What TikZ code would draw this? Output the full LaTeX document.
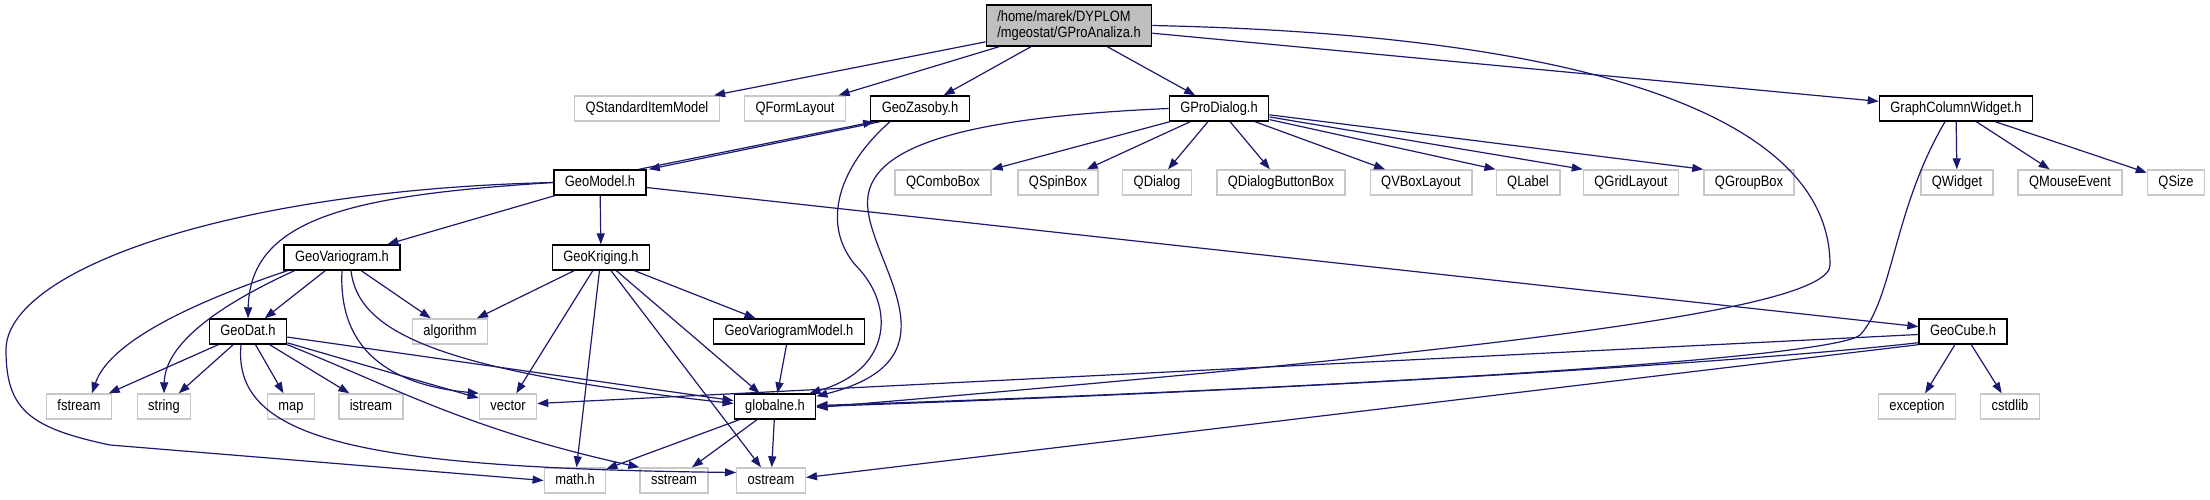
\documentclass[tikz,border=0pt]{standalone}
\usepackage{fontspec}
\setmainfont{Liberation Sans}[FakeStretch=0.86]
\usepackage{tikz}
\usetikzlibrary{arrows.meta}
\definecolor{EdgeBlue}{RGB}{25,25,112}
\definecolor{CurGrey}{RGB}{191,191,191}
\definecolor{SysGrey}{RGB}{200,200,200}
\tikzset{
  box/.style={rectangle, draw=black, line width=1.4pt, fill=white, inner xsep=11pt,
    inner ysep=0pt, minimum height=25pt, font=\fontsize{15}{16}\selectfont},
  doc/.style={box, text height=11pt, text depth=3pt},
  sys/.style={doc, draw=SysGrey},
  cur/.style={box, fill=CurGrey, align=left, minimum height=41pt},
  inc/.style={-{Triangle[length=11pt,width=8pt]}, line width=1.2pt, draw=EdgeBlue, fill=none}
}
\begin{document}
\begin{tikzpicture}[x=1pt, y=-1pt]
  \useasboundingbox (0,0) rectangle (2210,500);
  \node[cur] (ana) at (1069,25.5) {/home/marek/DYPLOM\\/mgeostat/GProAnaliza.h};
  \node[sys] (qsim) at (647,108.5) {QStandardItemModel};
  \node[sys] (qfl) at (795,108.5) {QFormLayout};
  \node[doc] (zas) at (920,108.5) {GeoZasoby.h};
  \node[doc] (dlg) at (1219,108.5) {GProDialog.h};
  \node[doc] (gcw) at (1956,108.5) {GraphColumnWidget.h};
  \node[doc] (mdl) at (600,182.5) {GeoModel.h};
  \node[sys] (qcb) at (943,182.5) {QComboBox};
  \node[sys] (qsb) at (1058,182.5) {QSpinBox};
  \node[sys] (qdl) at (1157,182.5) {QDialog};
  \node[sys] (qbb) at (1281,182.5) {QDialogButtonBox};
  \node[sys] (qvb) at (1421,182.5) {QVBoxLayout};
  \node[sys] (qlb) at (1528,182.5) {QLabel};
  \node[sys] (qgl) at (1631,182.5) {QGridLayout};
  \node[sys] (qgb) at (1749,182.5) {QGroupBox};
  \node[sys] (qwd) at (1957,182.5) {QWidget};
  \node[sys] (qme) at (2070,182.5) {QMouseEvent};
  \node[sys] (qsz) at (2176,182.5) {QSize};
  \node[doc] (var) at (342,257.5) {GeoVariogram.h};
  \node[doc] (krg) at (601,257.5) {GeoKriging.h};
  \node[doc] (dat) at (248,331.5) {GeoDat.h};
  \node[sys] (alg) at (450,331.5) {algorithm};
  \node[doc] (vmd) at (789,331.5) {GeoVariogramModel.h};
  \node[doc] (cub) at (1963,331.5) {GeoCube.h};
  \node[sys] (fst) at (79,406.5) {fstream};
  \node[sys] (str) at (164,406.5) {string};
  \node[sys] (map) at (291,406.5) {map};
  \node[sys] (ist) at (371,406.5) {istream};
  \node[sys] (vec) at (508,406.5) {vector};
  \node[doc] (glb) at (775,406.5) {globalne.h};
  \node[sys] (exc) at (1917,406.5) {exception};
  \node[sys] (csl) at (2010,406.5) {cstdlib};
  \node[sys] (mth) at (575,480.5) {math.h};
  \node[sys] (sst) at (674,480.5) {sstream};
  \node[sys] (ost) at (771,480.5) {ostream};

  \draw[inc] (ana) -- (qsim);
  \draw[inc] (ana) -- (qfl);
  \draw[inc] (ana) -- (zas);
  \draw[inc] (ana) -- (dlg);
  \draw[inc] (ana) -- (gcw);
  \draw[inc] (ana.east) .. controls (1600,35) and (1830,120) .. (1830,265)
    .. controls (1830,310) and (1500,350) .. ([yshift=-1pt]glb.east);

  \draw[inc] ([xshift=-8pt]mdl.north east) -- ([xshift=4pt]zas.south west);
  \draw[inc] ([xshift=10pt]zas.south west) -- ([xshift=2pt]mdl.north east);
  \draw[inc] ([xshift=-30pt]zas.south) .. controls (835,170) and (820,230) .. (860,270)
    .. controls (895,310) and (890,370) .. ([xshift=-7pt]glb.north east);

  \draw[inc] (dlg) -- (qcb);
  \draw[inc] (dlg) -- (qsb);
  \draw[inc] (dlg) -- (qdl);
  \draw[inc] (dlg) -- (qbb);
  \draw[inc] (dlg) -- (qvb);
  \draw[inc] (dlg) -- (qlb.north west);
  \draw[inc] (dlg) -- (qgl.north west);
  \draw[inc] (dlg) -- (qgb.north west);
  \draw[inc] (dlg.west) .. controls (950,118) and (860,150) .. (868,210)
    .. controls (875,270) and (960,360) .. ([yshift=-3pt]glb.north east);

  \draw[inc] (gcw) -- (qwd);
  \draw[inc] (gcw) -- (qme);
  \draw[inc] (gcw) -- (qsz);
  \draw[inc] ([xshift=-11pt]gcw.south) .. controls (1893,210) and (1893,300) .. (1860,335)
    .. controls (1830,360) and (1300,390) .. ([yshift=1pt]glb.east);

  \draw[inc] (mdl) -- (var);
  \draw[inc] (mdl) -- (krg);
  \draw[inc] (mdl) -- (cub);
  \draw[inc] (mdl.west) .. controls (360,195) and (250,215) .. (dat.north);
  \draw[inc] (mdl.west) .. controls (230,190) and (6,270) .. (6,350)
    .. controls (6,410) and (30,428) .. (110,445) -- (mth.west);

  \draw[inc] (var) -- (dat);
  \draw[inc] (var) -- (alg);
  \draw[inc] ([xshift=4pt]var.south west) .. controls (200,300) and (110,340) .. ([xshift=13pt]fst.north);
  \draw[inc] ([xshift=11pt]var.south west) .. controls (230,300) and (165,340) .. (str.north);
  \draw[inc] (var.south) .. controls (338,350) and (390,385) .. (vec.north west);
  \draw[inc] ([xshift=9pt]var.south) .. controls (358,330) and (430,370) .. ([yshift=3pt]glb.west);

  \draw[inc] (krg) -- (alg);
  \draw[inc] (krg) -- (vec);
  \draw[inc] (krg) -- (mth);
  \draw[inc] (krg) -- (glb);
  \draw[inc] (krg) -- (ost);
  \draw[inc] (krg) -- (vmd);
  \draw[inc] (vmd) -- (glb);

  \draw[inc] (dat) -- (fst);
  \draw[inc] (dat) -- (str);
  \draw[inc] (dat) -- (map);
  \draw[inc] (dat) -- (ist);
  \draw[inc] (dat) -- (vec);
  \draw[inc] (dat) -- (glb);
  \draw[inc] (dat.south east) .. controls (400,390) and (470,430) .. (sst.north west);
  \draw[inc] ([xshift=-7pt]dat.south) .. controls (232,440) and (360,468) .. ([yshift=8pt]ost.west);

  \draw[inc] (glb) -- (mth);
  \draw[inc] (glb) -- (sst);
  \draw[inc] (glb) -- (ost);

  \draw[inc] (cub) -- (exc);
  \draw[inc] (cub) -- (csl);
  \draw[inc] ([yshift=-3pt]cub.west) -- ([yshift=3pt]vec.east);
  \draw[inc] ([yshift=2pt]cub.south west) .. controls (1750,362) and (1300,390) .. (glb.east);
  \draw[inc] (cub.south west) -- ([yshift=3pt]ost.east);
\end{tikzpicture}
\end{document}
